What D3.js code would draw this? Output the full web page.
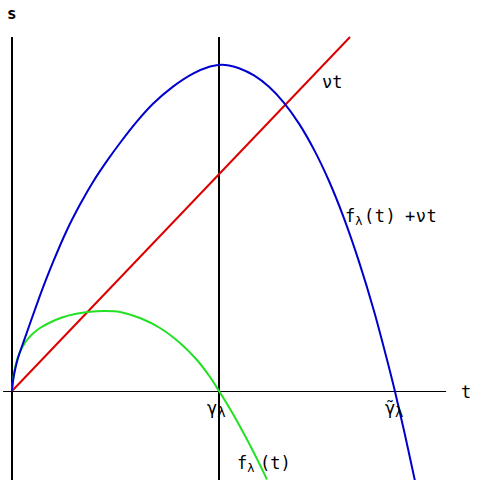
<!DOCTYPE html>
<html>
<head>
<meta charset="utf-8">
<script src="https://cdn.jsdelivr.net/npm/d3@7"></script>
<style>
  body { margin: 0; background: #fff; }
  text { font-family: "DejaVu Sans Mono", monospace; fill: #000; }
</style>
</head>
<body>
<div id="chart"></div>
<script>
// curve samples, t in units of gamma_lambda
const blueT = [0, 0.0048, 0.0145, 0.0290, 0.0580, 0.0870, 0.1159, 0.1449, 0.1981, 0.2657, 0.3285, 0.3913, 0.4589, 0.5217, 0.6039, 0.6812, 0.7778, 0.8744, 0.9565, 0.9855, 1.0145,
               1.0483, 1.0966, 1.1691, 1.2415, 1.3140, 1.3865, 1.4589, 1.5314, 1.6039, 1.6763, 1.7488, 1.8213, 1.8502, 1.8937, 1.9469];
const blueS = [0, 0.0483, 0.1014, 0.1594, 0.2435, 0.3261, 0.4072, 0.4870, 0.6222, 0.7778, 0.9005, 1.0101, 1.1116, 1.1981, 1.3024, 1.3874, 1.4705, 1.5333, 1.5676, 1.5734, 1.5758,
               1.5720, 1.5594, 1.5246, 1.4696, 1.3923, 1.2918, 1.1662, 1.0145, 0.8343, 0.6251, 0.3865, 0.1135, -0.0024, -0.1908, -0.4348];

const greenT = [0, 0.0024, 0.0048, 0.0097, 0.0145, 0.0242, 0.0386, 0.0531, 0.0725, 0.1014, 0.1353, 0.1836, 0.2415, 0.3043, 0.3768, 0.4493, 0.5217, 0.6184, 0.7150, 0.8116, 0.8937, 0.9565, 1.0000,
                1.0338, 1.0676, 1.1014, 1.1353, 1.1691, 1.1981, 1.2319];
const greenS = [0, 0.0290, 0.0531, 0.0870, 0.1111, 0.1498, 0.1884, 0.2174, 0.2464, 0.2778, 0.3043, 0.3309, 0.3551, 0.3720, 0.3831, 0.3865, 0.3816, 0.3527, 0.3043, 0.2319, 0.1498, 0.0676, 0,
                -0.0541, -0.1111, -0.1715, -0.2343, -0.2995, -0.3575, -0.4275];

const redT = [0, 1.633];
const redS = [0, 1.710];

const vLines = [0, 1];        // t = 0 and t = gamma_lambda
const tAxisRange = [-0.043, 2.097];
const sLineRange = [-0.430, 1.710];

const width = 480, height = 480;

var x = d3.scaleLinear().domain([0, 1]).range([12, 219]);
var y = d3.scaleLinear().domain([0, 1]).range([391, 184]);

var svg = d3.select("#chart").append("svg")
  .attr("width", width)
  .attr("height", height);

// t axis (half pixel offset keeps the 1px line crisp)
svg.append("line")
  .attr("x1", x(tAxisRange[0])).attr("x2", x(tAxisRange[1]))
  .attr("y1", y(0) + 0.5).attr("y2", y(0) + 0.5)
  .attr("stroke", "#000").attr("stroke-width", 1);

// vertical lines
svg.selectAll(".vline")
  .data(vLines)
  .enter().append("line")
    .attr("class", "vline")
    .attr("x1", d => x(d)).attr("x2", d => x(d))
    .attr("y1", y(sLineRange[1])).attr("y2", y(sLineRange[0]))
    .attr("stroke", "#000").attr("stroke-width", 2);

var line = d3.line()
  .x(d => x(d[0]))
  .y(d => y(d[1]))
  .curve(d3.curveCatmullRom.alpha(0.5));

var zip = (a, b) => a.map((v, i) => [v, b[i]]);

svg.append("path")
  .datum(zip(redT, redS))
  .attr("d", d3.line().x(d => x(d[0])).y(d => y(d[1])))
  .attr("fill", "none").attr("stroke", "#dd0000").attr("stroke-width", 2);

svg.append("path")
  .datum(zip(greenT, greenS))
  .attr("d", line)
  .attr("fill", "none").attr("stroke", "#22e022").attr("stroke-width", 2);

svg.append("path")
  .datum(zip(blueT, blueS))
  .attr("d", line)
  .attr("fill", "none").attr("stroke", "#0000cc").attr("stroke-width", 2);

// labels
svg.append("text").attr("x", 7).attr("y", 19)
  .style("font-size", "16px").style("font-weight", "bold").text("s");
svg.append("text").attr("x", 461).attr("y", 398)
  .style("font-size", "17px").text("t");

svg.append("text").attr("x", 322).attr("y", 88)
  .style("font-size", "17px").text("νt");

var lab1 = svg.append("text").attr("x", 345).attr("y", 222).style("font-size", "17px");
lab1.append("tspan").text("f");
lab1.append("tspan").attr("dy", 3).style("font-size", "12px").text("λ");
lab1.append("tspan").attr("x", 364).attr("dy", -3).style("letter-spacing", "0.5px").text("(t)");
lab1.append("tspan").attr("x", 405).style("letter-spacing", "0.5px").text("+νt");

var lab2 = svg.append("text").attr("x", 237).attr("y", 469).style("font-size", "17px");
lab2.append("tspan").text("f");
lab2.append("tspan").attr("dy", 3).style("font-size", "12px").text("λ");
lab2.append("tspan").attr("x", 260).attr("dy", -3).text("(t)");

var lab3 = svg.append("text").attr("x", 207).attr("y", 414).style("font-size", "17px");
lab3.append("tspan").text("γ");
lab3.append("tspan").attr("dy", 3).style("font-size", "14px").text("λ");

// gamma with a combining tilde
var lab4 = svg.append("text").attr("x", 385).attr("y", 414).style("font-size", "17px");
lab4.append("tspan").style("font-family", "'DejaVu Sans'").text("γ\u0303");
lab4.append("tspan").attr("dy", 3).style("font-size", "14px").text("λ");
</script>
</body>
</html>
